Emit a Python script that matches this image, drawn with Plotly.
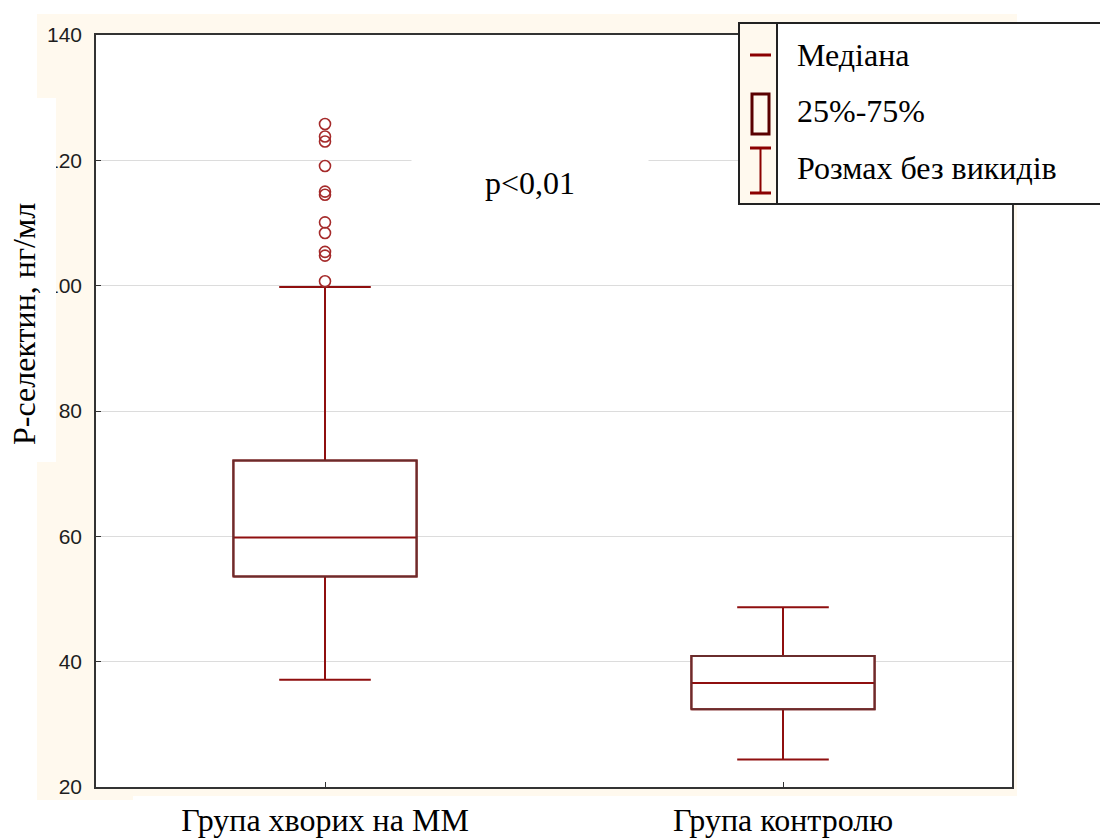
import plotly.graph_objects as go

# P-selectin summary statistics per group (ng/ml)
groups = ["Група хворих на ММ", "Група контролю"]
lower_whisker = [37.1, 24.4]
q1 = [53.6, 32.4]
median = [59.8, 36.6]
q3 = [72.1, 40.9]
upper_whisker = [99.8, 48.7]

# outlying values in the patient group
outliers_mm = [125.8, 123.8, 123.0, 119.1, 115.0, 114.5, 110.1, 108.4, 105.4, 104.8, 100.7]

y_ticks = [20, 40, 60, 80, 100, 120, 140]

W, H = 1100, 840
L, R, T, B = 96, 88, 35, 53
PW, PH = W - L - R, H - T - B

RED = "#8f0f0f"
BROWN = "#6a2c2c"
CREAM = "#fff9ee"
SERIF = "Liberation Serif"
SANS = "Liberation Sans"
SERIF_SIZE = 32


def px(x):
    return (x - L) / PW


def py(y):
    return (H - B - y) / PH


xpos = list(range(len(groups)))
box_w = 0.4

fig = go.Figure()

# whiskers and medians
fig.add_trace(go.Box(
    x=xpos, q1=q1, median=median, q3=q3,
    lowerfence=lower_whisker, upperfence=upper_whisker,
    width=box_w, whiskerwidth=0.5,
    fillcolor="white", line=dict(color=RED, width=2),
    boxpoints=False, showlegend=False, hoverinfo="skip",
))

# box outlines (25%-75%) in a darker tone
bx, by = [], []
for i in xpos:
    x0, x1 = i - box_w / 2, i + box_w / 2
    bx += [x0, x1, x1, x0, x0, None]
    by += [q1[i], q1[i], q3[i], q3[i], q1[i], None]
fig.add_trace(go.Scatter(
    x=bx, y=by, mode="lines", line=dict(color=BROWN, width=2),
    showlegend=False, hoverinfo="skip",
))

# outliers
fig.add_trace(go.Scatter(
    x=[xpos[0]] * len(outliers_mm), y=outliers_mm, mode="markers",
    marker=dict(symbol="circle-open", size=11, color="#a52a2a", line=dict(width=1.6)),
    showlegend=False, hoverinfo="skip",
))

shapes = []
# cream frame around the plotting area
shapes.append(dict(type="rect", xref="paper", yref="paper", layer="below",
                   x0=px(37), x1=px(1017), y0=py(796), y1=py(14),
                   fillcolor=CREAM, line=dict(width=0)))
shapes.append(dict(type="rect", xref="paper", yref="paper", layer="below",
                   x0=px(37), x1=px(133), y0=py(800), y1=py(796),
                   fillcolor=CREAM, line=dict(width=0)))
shapes.append(dict(type="rect", xref="paper", yref="paper", layer="below",
                   x0=0, x1=1, y0=0, y1=1,
                   fillcolor="white", line=dict(width=0)))
# white panel behind the y-axis title
shapes.append(dict(type="rect", xref="paper", yref="paper", layer="above",
                   x0=px(0), x1=px(56), y0=py(462), y1=py(98),
                   fillcolor="white", line=dict(width=0)))

# legend panel
shapes.append(dict(type="rect", xref="paper", yref="paper", layer="above",
                   x0=px(739), x1=px(1110), y0=py(204), y1=py(23),
                   fillcolor="white", line=dict(color="#222", width=2)))
shapes.append(dict(type="rect", xref="paper", yref="paper", layer="above",
                   x0=px(739), x1=px(777), y0=py(204), y1=py(23),
                   fillcolor=CREAM, line=dict(color="#222", width=2)))
# legend symbols
shapes.append(dict(type="line", xref="paper", yref="paper", layer="above",
                   x0=px(750), x1=px(771), y0=py(55), y1=py(55),
                   line=dict(color="#8b0000", width=3)))
shapes.append(dict(type="rect", xref="paper", yref="paper", layer="above",
                   x0=px(752), x1=px(769), y0=py(134), y1=py(94),
                   fillcolor="rgba(0,0,0,0)", line=dict(color="#5a0000", width=3)))
for yy in (148, 193):
    shapes.append(dict(type="line", xref="paper", yref="paper", layer="above",
                       x0=px(750), x1=px(771), y0=py(yy), y1=py(yy),
                       line=dict(color="#8b0000", width=3)))
shapes.append(dict(type="line", xref="paper", yref="paper", layer="above",
                   x0=px(760.5), x1=px(760.5), y0=py(193), y1=py(148),
                   line=dict(color="#8b0000", width=2)))

annotations = [
    dict(text="Р-селектин, нг/мл", xref="paper", yref="paper",
         x=px(24), y=py(324), textangle=-90, showarrow=False,
         xanchor="center", yanchor="middle",
         font=dict(family=SERIF, size=SERIF_SIZE, color="black")),
    dict(text="p<0,01", xref="paper", yref="paper",
         x=px(530), y=py(183), showarrow=False,
         xanchor="center", yanchor="middle", width=234, height=56,
         bgcolor="white",
         font=dict(family=SERIF, size=SERIF_SIZE, color="black")),
]
for label, yy in (("Медіана", 55), ("25%-75%", 111), ("Розмах без викидів", 168)):
    annotations.append(dict(text=label, xref="paper", yref="paper",
                            x=px(795), y=py(yy), showarrow=False,
                            xanchor="left", yanchor="middle",
                            font=dict(family=SERIF, size=SERIF_SIZE, color="black")))

fig.update_layout(
    width=W, height=H,
    margin=dict(l=L, r=R, t=T, b=B, pad=0, autoexpand=False),
    paper_bgcolor="white", plot_bgcolor="white",
    shapes=shapes, annotations=annotations,
    xaxis=dict(
        range=[-0.5, 1.5], tickmode="array", tickvals=xpos, ticktext=groups,
        showgrid=False, zeroline=False, automargin=False,
        showline=True, mirror=True, linecolor="#333", linewidth=1.5,
        ticks="inside", ticklen=5, tickcolor="#333",
        tickfont=dict(family=SERIF, size=SERIF_SIZE, color="black"),
        ticklabelstandoff=4,
    ),
    yaxis=dict(
        range=[20, 140], tickmode="array", tickvals=y_ticks,
        showgrid=True, gridcolor="#dcdcdc", gridwidth=1, zeroline=False,
        automargin=False,
        showline=True, mirror=True, linecolor="#333", linewidth=1.5,
        ticks="inside", ticklen=5, tickcolor="#333",
        tickfont=dict(family=SANS, size=21, color="#1e1e1e"),
        ticklabelstandoff=8,
    ),
)

fig.write_html("out.html")
